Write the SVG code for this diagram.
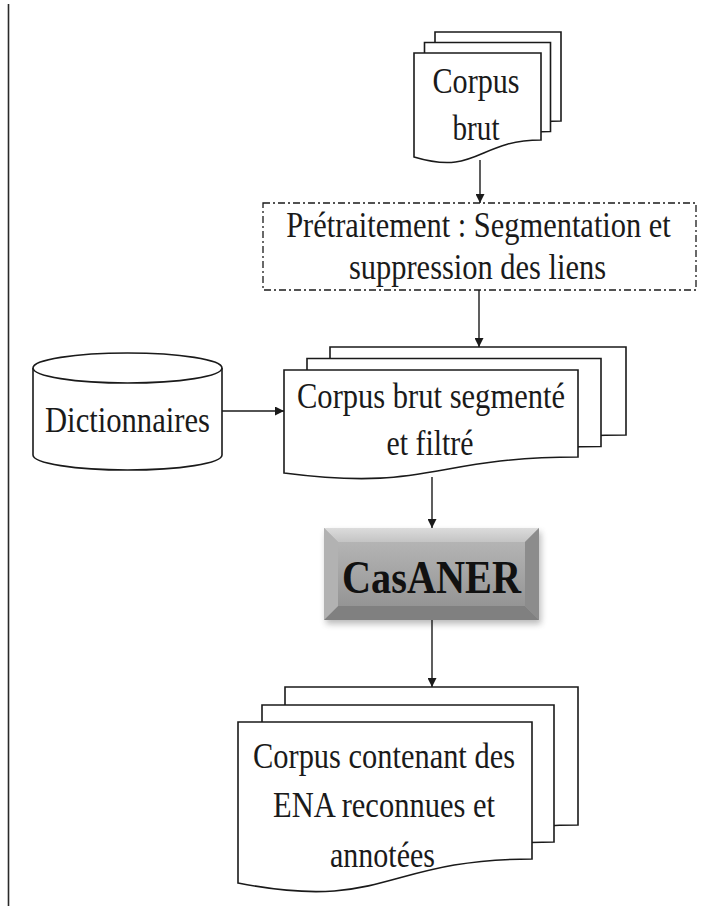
<svg xmlns="http://www.w3.org/2000/svg" width="725" height="911" viewBox="0 0 725 911">
  <style>
    .page { fill: #ffffff; stroke: #1a1a1a; stroke-width: 1.6; }
    .lbl { font-family: "Liberation Serif", "Times New Roman", serif; font-size: 35px; fill: #1a1a1a; text-anchor: middle; }
    .big { font-family: "Liberation Serif", "Times New Roman", serif; font-size: 47px; font-weight: bold; fill: #111111; text-anchor: middle; }
    .edge { stroke: #1a1a1a; stroke-width: 1.4; fill: none; marker-end: url(#head); }
    .frame { stroke: #2a2a2a; stroke-width: 1.6; }
  </style>
  <defs>
    <marker id="head" viewBox="0 0 10 10" refX="10" refY="5" markerWidth="9" markerHeight="9" markerUnits="userSpaceOnUse" orient="auto">
      <path d="M0,0 L10,5 L0,10 Z" fill="#1a1a1a"/>
    </marker>
    <linearGradient id="face" x1="0" y1="0" x2="0" y2="1">
      <stop offset="0" stop-color="#b4b4b4"/>
      <stop offset="1" stop-color="#959595"/>
    </linearGradient>
    <linearGradient id="topBevel" x1="0" y1="0" x2="0" y2="1">
      <stop offset="0" stop-color="#dcdcdc"/>
      <stop offset="1" stop-color="#c4c4c4"/>
    </linearGradient>
    <filter id="shadow" x="-20%" y="-20%" width="140%" height="150%">
      <feGaussianBlur stdDeviation="3"/>
    </filter>
  </defs>

  <!-- left margin rule -->
  <line class="frame" x1="8.5" y1="4" x2="8.5" y2="906"/>

  <!-- raw corpus: stack of three documents -->
  <g id="corpus-brut">
    <path class="page" d="M435,32 H561 V121 C497.5,121 497.5,155 435,136 Z"/>
    <path class="page" d="M424.5,42.5 H550.5 V131.5 C487,131.5 487,165.5 424.5,146.5 Z"/>
    <path class="page" d="M414,53 H541 V140 C477.5,140 477.5,176 414,157 Z"/>
    <text class="lbl" x="476" y="93" textLength="87" lengthAdjust="spacingAndGlyphs">Corpus</text>
    <text class="lbl" x="476" y="140" textLength="47" lengthAdjust="spacingAndGlyphs">brut</text>
  </g>

  <!-- preprocessing step (horizontally condensed text) -->
  <g id="pretraitement">
    <rect x="263" y="203" width="433" height="87" fill="#ffffff" stroke="#1a1a1a" stroke-width="1.3" stroke-dasharray="7 3 2 3"/>
    <text class="lbl" font-size="33" transform="translate(478.5,237) scale(0.87,1)">Prétraitement : Segmentation et</text>
    <text class="lbl" font-size="33" transform="translate(477.5,279) scale(0.87,1)">suppression des liens</text>
  </g>

  <!-- dictionaries (database cylinder) -->
  <g id="dictionnaires">
    <path class="page" d="M33,368 V455 A94.5,15 0 0 0 222,455 V368"/>
    <ellipse class="page" cx="127.5" cy="368" rx="94.5" ry="15"/>
    <text class="lbl" x="127.5" y="432" font-size="36" textLength="165" lengthAdjust="spacingAndGlyphs">Dictionnaires</text>
  </g>

  <!-- segmented and filtered corpus -->
  <g id="corpus-segmente">
    <path class="page" d="M330,347 H626 V435 C478,435 478,469 330,450 Z"/>
    <path class="page" d="M307,358.5 H601 V446.5 C454,446.5 454,480.5 307,461.5 Z"/>
    <path class="page" d="M284,370 H578 V457 C431,457 431,492 284,473 Z"/>
    <text class="lbl" x="431" y="408" textLength="268" lengthAdjust="spacingAndGlyphs">Corpus brut segmenté</text>
    <text class="lbl" x="430" y="455" textLength="87" lengthAdjust="spacingAndGlyphs">et filtré</text>
  </g>

  <!-- CasANER processing block (bevelled) -->
  <g id="casaner">
    <rect x="326" y="532" width="215" height="92" fill="#555555" opacity="0.4" filter="url(#shadow)"/>
    <rect x="324" y="528" width="215" height="92" fill="url(#face)"/>
    <polygon points="324,528 539,528 525,542 338,542" fill="url(#topBevel)"/>
    <polygon points="324,620 539,620 525,606 338,606" fill="#808080"/>
    <polygon points="324,528 338,542 338,606 324,620" fill="#b2b2b2"/>
    <polygon points="539,528 525,542 525,606 539,620" fill="#8c8c8c"/>
    <rect x="338" y="542" width="187" height="64" fill="url(#face)"/>
    <text class="big" x="431.5" y="593" textLength="179" lengthAdjust="spacingAndGlyphs">CasANER</text>
  </g>

  <!-- output corpus with recognised and annotated entities -->
  <g id="corpus-annote">
    <path class="page" d="M285,687 H578 V825 C431.5,825 431.5,877 285,848 Z"/>
    <path class="page" d="M262,705 H554 V842 C408,842 408,895 262,866 Z"/>
    <path class="page" d="M238,722 H532 V859 C385,859 385,912 238,883 Z"/>
    <text class="lbl" x="384" y="768" textLength="262" lengthAdjust="spacingAndGlyphs">Corpus contenant des</text>
    <text class="lbl" x="384" y="817" textLength="222" lengthAdjust="spacingAndGlyphs">ENA reconnues et</text>
    <text class="lbl" x="382.5" y="867" textLength="105" lengthAdjust="spacingAndGlyphs">annotées</text>
  </g>

  <!-- connectors -->
  <g id="connectors">
    <line class="edge" x1="480" y1="160" x2="480" y2="203"/>
    <line class="edge" x1="479" y1="290" x2="479" y2="347"/>
    <line class="edge" x1="222" y1="411" x2="284" y2="411"/>
    <line class="edge" x1="432" y1="477" x2="432" y2="528"/>
    <line class="edge" x1="432" y1="620" x2="432" y2="687"/>
  </g>
</svg>
